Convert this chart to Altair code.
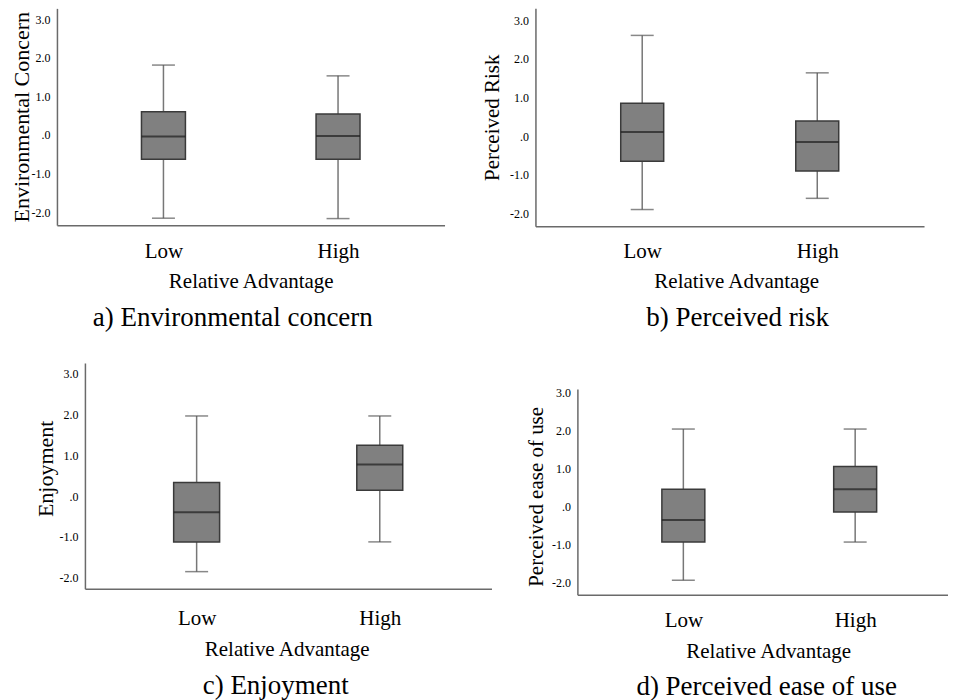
import altair as alt
import pandas as pd

groups = ["Low", "High"]

# a) Environmental concern
a_min = [-2.16, -2.17]
a_q1 = [-0.63, -0.63]
a_med = [-0.04, -0.03]
a_q3 = [0.60, 0.54]
a_max = [1.81, 1.53]

# b) Perceived risk
b_min = [-1.90, -1.61]
b_q1 = [-0.65, -0.90]
b_med = [0.11, -0.15]
b_q3 = [0.85, 0.39]
b_max = [2.61, 1.64]

# c) Enjoyment
c_min = [-1.85, -1.12]
c_q1 = [-1.12, 0.15]
c_med = [-0.39, 0.78]
c_q3 = [0.34, 1.25]
c_max = [1.97, 1.97]

# d) Perceived ease of use
d_min = [-1.93, -0.93]
d_q1 = [-0.93, -0.14]
d_med = [-0.35, 0.45]
d_q3 = [0.45, 1.05]
d_max = [2.03, 2.03]

y_ticks = [-2, -1, 0, 1, 2, 3]
x_title = "Relative Advantage"

FONT = "Liberation Serif"
AXIS_COLOR = "#6a6a6a"
LABEL_EXPR = ("datum.value == 0 ? '.0' : (datum.value < 0 ? '-' + format(-datum.value, '.1f')"
              " : format(datum.value, '.1f'))")


def panel(mins, q1s, meds, q3s, maxs, ytitle, caption, width, height, ydomain,
          xpad=0.61, xalign=0.5, xrange=None, yrange=None, yoffset=0, ytitle_y=None,
          xtitle_x=None, ytitle_pad=5, ytitle_size=21, xlabel_pad=16, xtitle_pad=9,
          cap_offset=14, caption_dx=0, box_w=44, cap_w=23):
    df = pd.DataFrame({"group": groups, "lo": mins, "q1": q1s, "med": meds,
                       "q3": q3s, "hi": maxs})
    xs = dict(type="point", padding=xpad, align=xalign, domain=groups)
    if xrange is not None:
        xs["range"] = xrange
    xax = dict(title=x_title, labelAngle=0, ticks=False, labelPadding=xlabel_pad,
               labelFont=FONT, labelFontSize=21, labelColor="#000",
               titleFont=FONT, titleFontSize=21, titleFontWeight="normal",
               titleColor="#000", titlePadding=xtitle_pad, domainColor=AXIS_COLOR,
               domainWidth=1.5)
    if xtitle_x is not None:
        xax["titleX"] = xtitle_x
    ys = dict(domain=ydomain, nice=False, zero=False)
    if yrange is not None:
        ys["range"] = yrange
    yax = dict(title=ytitle, values=y_ticks, labelExpr=LABEL_EXPR, ticks=False,
               grid=False, labelFont=FONT, labelFontSize=12, labelColor="#000",
               labelPadding=7, titleFont=FONT, titleFontSize=ytitle_size,
               titleFontWeight="normal", titleColor="#000", titlePadding=ytitle_pad,
               domainColor=AXIS_COLOR, domainWidth=1.5, offset=yoffset)
    if ytitle_y is not None:
        yax["titleY"] = ytitle_y
    xenc = alt.X("group:N", sort=groups, scale=alt.Scale(**xs), axis=alt.Axis(**xax))

    def yenc(field):
        return alt.Y(field + ":Q", scale=alt.Scale(**ys), axis=alt.Axis(**yax))

    base = alt.Chart(df).encode(x=xenc)
    whisker = base.mark_rule(color="#777777", strokeWidth=1.5).encode(
        y=yenc("lo"), y2="hi:Q")
    box = base.mark_bar(size=box_w, color="#808080", stroke="#3a3a3a",
                        strokeWidth=1.5).encode(y=yenc("q1"), y2="q3:Q")
    median = base.mark_tick(size=box_w, thickness=2, color="#1e1e1e").encode(
        y=yenc("med"))
    cap_lo = base.mark_tick(size=cap_w, thickness=1.5, color="#555555").encode(
        y=yenc("lo"))
    cap_hi = base.mark_tick(size=cap_w, thickness=1.5, color="#555555").encode(
        y=yenc("hi"))
    return alt.layer(whisker, box, median, cap_lo, cap_hi).properties(
        width=width, height=height,
        title=alt.TitleParams(text=caption, orient="bottom", anchor="middle",
                              frame="group", font=FONT, fontSize=27,
                              fontWeight="normal", color="#000", offset=cap_offset,
                              dx=caption_dx))


pa = panel(a_min, a_q1, a_med, a_q3, a_max, "Environmental Concern",
           "a) Environmental concern", 388, 217, [-2.34, 3.28],
           ytitle_pad=-3, ytitle_size=22, xlabel_pad=15, caption_dx=-18)
pb = panel(b_min, b_q1, b_med, b_q3, b_max, "Perceived Risk",
           "b) Perceived risk", 389, 218, [-2.33, 3.31],
           ytitle_pad=7, xlabel_pad=14, xtitle_x=201, caption_dx=8, box_w=43)
pc = panel(c_min, c_q1, c_med, c_q3, c_max, "Enjoyment",
           "c) Enjoyment", 435, 226, [-2.27, 3.27],
           xrange=[28, 435], yoffset=-28, ytitle_pad=1, ytitle_size=22,
           ytitle_y=105.5, xtitle_x=230, xlabel_pad=19, xtitle_pad=10, cap_offset=13,
           caption_dx=1.5, box_w=46)
pd_ = panel(d_min, d_q1, d_med, d_q3, d_max, "Perceived ease of use",
            "d) Perceived ease of use", 371, 232, [-2.31, 3.08],
            xpad=0.5785, xalign=0.533, yrange=[232, 26], ytitle_y=133.5,
            ytitle_pad=5, xlabel_pad=15, xtitle_pad=10, xtitle_x=191, cap_offset=12,
            caption_dx=4, box_w=43)

row1 = alt.hconcat(pa, pb, spacing=37)
row2 = alt.hconcat(pc, pd_, spacing=34)
chart = alt.vconcat(row1, row2, spacing=32).properties(
    padding={"left": 3, "top": 0, "right": 0, "bottom": 0},
    background="white").configure_view(stroke=None)

chart.save("out.html", embed_options={"renderer": "svg", "actions": False})
